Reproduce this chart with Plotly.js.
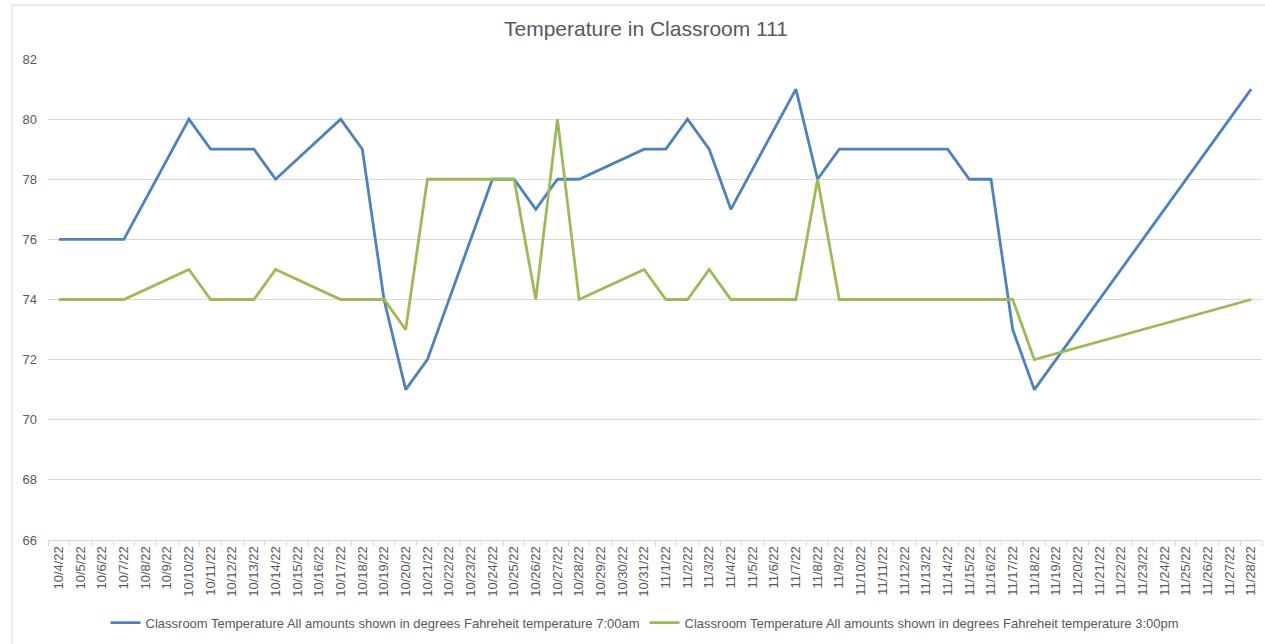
<!DOCTYPE html>
<html>
<head>
<meta charset="utf-8">
<script src="https://cdn.plot.ly/plotly-3.0.1.min.js"></script>
<style>
  html, body { margin: 0; padding: 0; background: #ffffff; }
  #chart { width: 1265px; height: 644px; }
</style>
</head>
<body>
<div id="chart"></div>
<script>
// Categories (every calendar day shown on the axis)
const dates = [
  "10/4/22","10/5/22","10/6/22","10/7/22","10/8/22","10/9/22","10/10/22","10/11/22",
  "10/12/22","10/13/22","10/14/22","10/15/22","10/16/22","10/17/22","10/18/22","10/19/22",
  "10/20/22","10/21/22","10/22/22","10/23/22","10/24/22","10/25/22","10/26/22","10/27/22",
  "10/28/22","10/29/22","10/30/22","10/31/22","11/1/22","11/2/22","11/3/22","11/4/22",
  "11/5/22","11/6/22","11/7/22","11/8/22","11/9/22","11/10/22","11/11/22","11/12/22",
  "11/13/22","11/14/22","11/15/22","11/16/22","11/17/22","11/18/22","11/19/22","11/20/22",
  "11/21/22","11/22/22","11/23/22","11/24/22","11/25/22","11/26/22","11/27/22","11/28/22"
];

// 7:00am readings (null = no reading that day)
const temp7am = [
  76, 76, 76, 76, null, null, 80, 79,
  79, 79, 78, null, null, 80, 79, 74,
  71, 72, null, null, 78, 78, 77, 78,
  78, null, null, 79, 79, 80, 79, 77,
  null, null, 81, 78, 79, 79, 79, null,
  null, 79, 78, 78, 73, 71, null, null,
  null, null, null, null, null, null, null, 81
];

// 3:00pm readings
const temp3pm = [
  74, 74, 74, 74, null, null, 75, 74,
  74, 74, 75, null, null, 74, 74, 74,
  73, 78, null, null, 78, 78, 74, 80,
  74, null, null, 75, 74, 74, 75, 74,
  null, null, 74, 78, 74, 74, 74, null,
  null, 74, 74, 74, 74, 72, null, null,
  null, null, null, null, null, null, null, 74
];

const seriesNames = [
  "Classroom Temperature All amounts shown in degrees Fahreheit temperature 7:00am",
  "Classroom Temperature All amounts shown in degrees Fahreheit temperature 3:00pm"
];

const yTicks = [66, 68, 70, 72, 74, 76, 78, 80, 82];

const font = "Liberation Sans, Arial, sans-serif";
const gray = "#595959";

const traces = [
  {
    x: dates, y: temp7am, name: seriesNames[0], type: "scatter", mode: "lines",
    connectgaps: true,
    line: { color: "#4F81BD", width: 2.8 }
  },
  {
    x: dates, y: temp3pm, name: seriesNames[1], type: "scatter", mode: "lines",
    connectgaps: true,
    line: { color: "#9BBB59", width: 2.8 }
  }
];

const layout = {
  width: 1265, height: 644,
  paper_bgcolor: "#ffffff", plot_bgcolor: "#ffffff",
  margin: { l: 48, r: 3, t: 59, b: 104, pad: 0 },
  font: { family: font, size: 12, color: gray },
  title: {
    text: "Temperature in Classroom 111",
    font: { family: font, size: 21, color: gray },
    x: 0.5107, xanchor: "center", xref: "container",
    y: 0.955, yanchor: "middle", yref: "container"
  },
  xaxis: {
    type: "category",
    categoryorder: "array", categoryarray: dates,
    range: [-0.5, dates.length - 0.5],
    tickangle: -90,
    ticks: "outside", tickson: "boundaries", ticklen: 5, tickcolor: "#d9d9d9",
    showgrid: false, zeroline: false,
    showline: true, linecolor: "#d9d9d9", linewidth: 1,
    tickfont: { family: font, size: 13, color: gray },
    fixedrange: true
  },
  yaxis: {
    range: [66, 82],
    tickvals: yTicks,
    ticktext: yTicks.map(String),
    showgrid: true, gridcolor: "#d9d9d9", gridwidth: 1,
    zeroline: false, showline: false,
    ticks: "", ticklabelstandoff: 10,
    tickfont: { family: font, size: 13, color: gray },
    fixedrange: true
  },
  showlegend: true,
  legend: {
    orientation: "h",
    x: 0.4918, xanchor: "center",
    y: -0.172, yanchor: "middle",
    font: { family: font, size: 13, color: gray },
    itemwidth: 30,
    tracegroupgap: 0
  },
  shapes: [
    { type: "line", xref: "paper", yref: "paper",
      x0: -0.0297, x1: 1.01, y0: 1.112, y1: 1.112,
      line: { color: "#d9d9d9", width: 1 } },
    { type: "line", xref: "paper", yref: "paper",
      x0: -0.0297, x1: -0.0297, y0: 1.112, y1: -0.23,
      line: { color: "#d9d9d9", width: 1 } }
  ]
};

Plotly.newPlot("chart", traces, layout, { displayModeBar: false, staticPlot: true });
</script>
</body>
</html>
